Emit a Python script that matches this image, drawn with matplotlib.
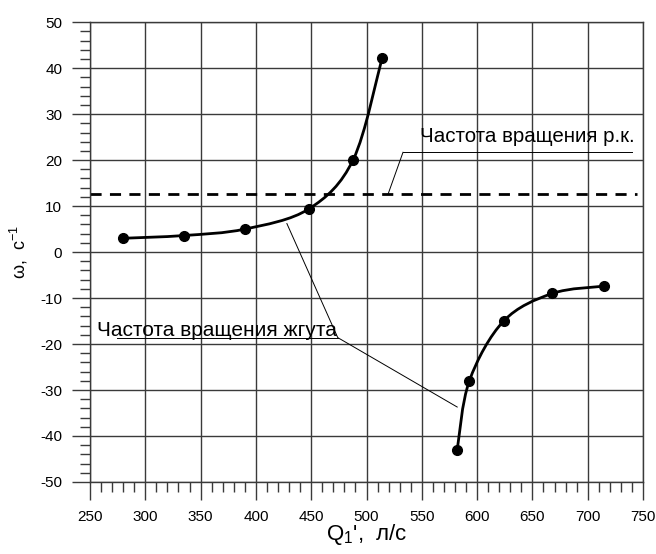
import matplotlib.pyplot as plt
import numpy as np
from matplotlib.path import Path
from matplotlib.patches import PathPatch
from matplotlib.ticker import MultipleLocator

plt.rcParams['font.family'] = ['Liberation Sans', 'DejaVu Sans']
plt.rcParams['mathtext.fontset'] = 'custom'
plt.rcParams['mathtext.rm'] = 'Liberation Sans'
plt.rcParams['mathtext.it'] = 'Liberation Sans'
plt.rcParams['axes.unicode_minus'] = False

# ветвь 1 (положительная частота жгута)
q1 = [280, 335, 390, 448, 488, 514]
w1 = [3.0, 3.6, 5.0, 9.4, 20.1, 42.1]
# ветвь 2 (отрицательная)
q2 = [582, 593, 624, 668, 715]
w2 = [-43.0, -28.0, -15.0, -9.0, -7.4]
# частота вращения р.к.
w_rk = 12.6


def smooth_path(x, y):
    # кривая Catmull-Rom через точки -> кубические Безье
    pts = np.column_stack([x, y]).astype(float)
    verts = [pts[0]]
    codes = [Path.MOVETO]
    n = len(pts)
    for i in range(n - 1):
        p0 = pts[i - 1] if i > 0 else pts[i]
        p1 = pts[i]
        p2 = pts[i + 1]
        p3 = pts[i + 2] if i + 2 < n else pts[i + 1]
        c1 = p1 + (p2 - p0) / 6.0
        c2 = p2 - (p3 - p1) / 6.0
        verts += [c1, c2, p2]
        codes += [Path.CURVE4] * 3
    return Path(verts, codes)


fig = plt.figure(figsize=(6.56, 5.54), dpi=100)
ax = fig.add_axes([0.1372, 0.130, 0.8430, 0.830])

ax.set_xlim(250, 750)
ax.set_ylim(-50, 50)
ax.xaxis.set_major_locator(MultipleLocator(50))
ax.xaxis.set_minor_locator(MultipleLocator(10))
ax.yaxis.set_major_locator(MultipleLocator(10))
ax.yaxis.set_minor_locator(MultipleLocator(2))
ax.grid(True, which='major', color='#3a3a3a', linewidth=1.0)
ax.set_axisbelow(True)
for s in ax.spines.values():
    s.set_color('#3a3a3a')
    s.set_linewidth(1.0)
ax.tick_params(which='major', direction='out', length=13, width=1.0,
               color='#3a3a3a', labelsize=11, pad=7)
ax.tick_params(which='minor', direction='out', length=7, width=1.0,
               color='#3a3a3a')

ax.axhline(w_rk, xmin=0.0, xmax=0.99, color='black', linewidth=2.0,
           linestyle=(0, (4, 3)))

for x, y in [(q1, w1), (q2, w2)]:
    ax.add_patch(PathPatch(smooth_path(x, y), facecolor='none',
                           edgecolor='black', linewidth=2.0))
    ax.plot(x, y, 'o', color='black', markersize=7, linestyle='none')

# подписи
ax.text(548, 24.0, 'Частота вращения р.к.', fontsize=14.8, va='baseline')
ax.plot([533, 740], [21.7, 21.7], color='black', linewidth=0.7)
ax.plot([533, 519.5], [21.7, w_rk], color='black', linewidth=0.7)

ax.text(256, -18.2, 'Частота вращения жгута', fontsize=15, va='baseline')
ax.plot([274, 474], [-18.6, -18.6], color='black', linewidth=0.7)
ax.plot([428, 474, 582], [6.2, -18.6, -33.7], color='black', linewidth=0.7)

ax.set_xlabel("Q$_1$',  л/с", fontsize=16)
ax.xaxis.set_label_coords(0.5, -0.088)
ax.set_ylabel('ω,  с$^{-1}$', fontsize=13)
ax.yaxis.set_label_coords(-0.108, 0.5)

fig.savefig('out.png', dpi=100)
